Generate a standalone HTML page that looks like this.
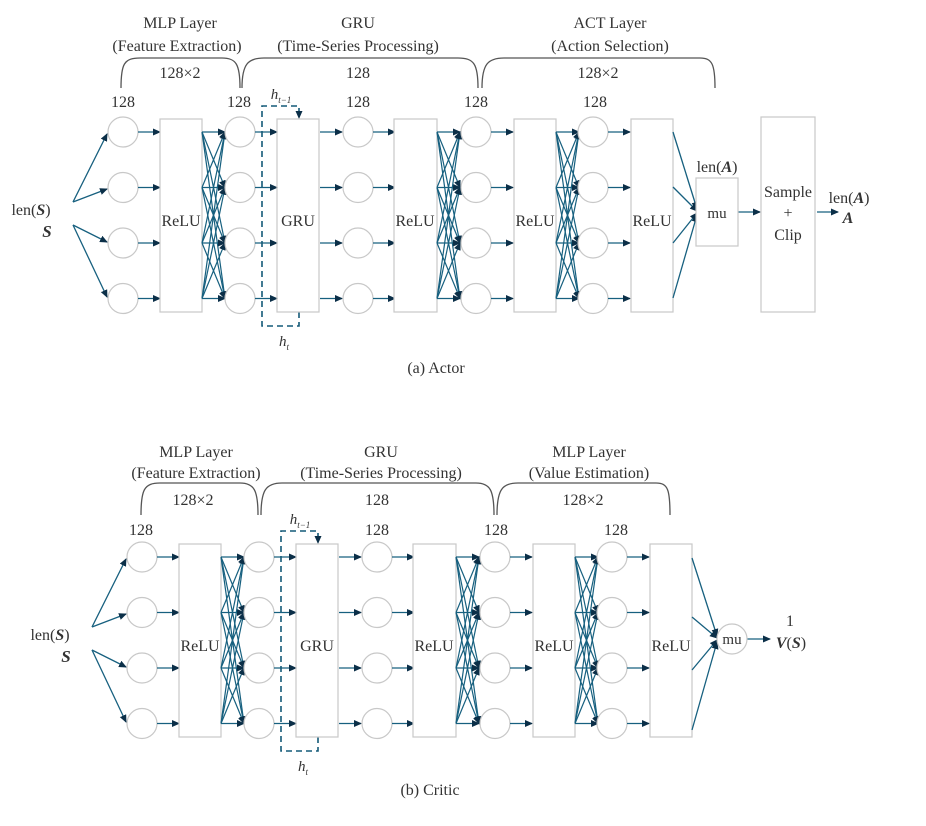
<!DOCTYPE html>
<html><head><meta charset="utf-8"><style>
html,body{margin:0;padding:0;background:#fff}
svg{display:block}
svg text{font-family:"Liberation Serif","DejaVu Serif",serif;fill:#333}
</style></head><body>
<svg width="926" height="826" viewBox="0 0 926 826" xmlns="http://www.w3.org/2000/svg" font-family="Liberation Serif, DejaVu Serif, serif">
<defs>
<marker id="ar" markerWidth="8" markerHeight="8" refX="7" refY="3.5" orient="auto" markerUnits="userSpaceOnUse">
<path d="M0,0 L8,3.5 L0,7 z" fill="#0b2f48"/>
</marker>
<g id="fc" stroke="#17607f" stroke-width="1.2" fill="none" marker-end="url(#ar)">
<line x1="0" y1="0" x2="23" y2="0"/><line x1="0" y1="0" x2="23" y2="55.5"/><line x1="0" y1="0" x2="23" y2="111"/><line x1="0" y1="0" x2="23" y2="166.5"/>
<line x1="0" y1="55.5" x2="23" y2="0"/><line x1="0" y1="55.5" x2="23" y2="55.5"/><line x1="0" y1="55.5" x2="23" y2="111"/><line x1="0" y1="55.5" x2="23" y2="166.5"/>
<line x1="0" y1="111" x2="23" y2="0"/><line x1="0" y1="111" x2="23" y2="55.5"/><line x1="0" y1="111" x2="23" y2="111"/><line x1="0" y1="111" x2="23" y2="166.5"/>
<line x1="0" y1="166.5" x2="23" y2="0"/><line x1="0" y1="166.5" x2="23" y2="55.5"/><line x1="0" y1="166.5" x2="23" y2="111"/><line x1="0" y1="166.5" x2="23" y2="166.5"/>
</g>
<g id="col" fill="#fff" stroke="#c8c8c8" stroke-width="1.2">
<circle cx="0" cy="0" r="15"/><circle cx="0" cy="55.5" r="15"/><circle cx="0" cy="111" r="15"/><circle cx="0" cy="166.5" r="15"/>
</g>
<g id="par" stroke="#17607f" stroke-width="1.3" marker-end="url(#ar)">
<line x1="0" y1="0" x2="22" y2="0"/><line x1="0" y1="55.5" x2="22" y2="55.5"/><line x1="0" y1="111" x2="22" y2="111"/><line x1="0" y1="166.5" x2="22" y2="166.5"/>
</g>
<g id="core">
<g stroke="#17607f" stroke-width="1.3" marker-end="url(#ar)">
<line x1="92" y1="627" x2="126" y2="559"/>
<line x1="92" y1="627" x2="126" y2="614"/>
<line x1="92" y1="650" x2="126" y2="667"/>
<line x1="92" y1="650" x2="126" y2="722"/>
</g>
<use href="#col" x="142" y="557"/>
<use href="#par" x="157" y="557"/>
<rect x="179" y="544" width="42" height="193" fill="#fff" stroke="#c8c8c8" stroke-width="1.2"/>
<text x="200" y="651" font-size="16" text-anchor="middle">ReLU</text>
<use href="#fc" x="221" y="557"/>
<use href="#col" x="259" y="557"/>
<use href="#par" x="274" y="557"/>
<path d="M318,737 V751 H281 V531 H318 V543" fill="none" stroke="#145a78" stroke-width="1.6" stroke-dasharray="6,4" marker-end="url(#ar)"/>
<rect x="296" y="544" width="42" height="193" fill="none" stroke="#c8c8c8" stroke-width="1.2"/>
<text x="317" y="651" font-size="16" text-anchor="middle">GRU</text>
<use href="#par" x="339" y="557"/>
<use href="#col" x="377" y="557"/>
<use href="#par" x="392" y="557"/>
<rect x="413" y="544" width="43" height="193" fill="#fff" stroke="#c8c8c8" stroke-width="1.2"/>
<text x="434" y="651" font-size="16" text-anchor="middle">ReLU</text>
<use href="#fc" x="456" y="557"/>
<use href="#col" x="495" y="557"/>
<use href="#par" x="510" y="557"/>
<rect x="533" y="544" width="42" height="193" fill="#fff" stroke="#c8c8c8" stroke-width="1.2"/>
<text x="554" y="651" font-size="16" text-anchor="middle">ReLU</text>
<use href="#fc" x="575" y="557"/>
<use href="#col" x="612" y="557"/>
<use href="#par" x="627" y="557"/>
<rect x="650" y="544" width="42" height="193" fill="#fff" stroke="#c8c8c8" stroke-width="1.2"/>
<text x="671" y="651" font-size="16" text-anchor="middle">ReLU</text>
<text x="50" y="640" font-size="16" text-anchor="middle">len(<tspan font-weight="bold" font-style="italic">S</tspan>)</text>
<text x="66" y="662" font-size="17" text-anchor="middle" font-weight="bold" font-style="italic">S</text>
<text x="300" y="524" font-size="15" font-style="italic" text-anchor="middle">h<tspan font-size="9" dy="4">t−1</tspan></text>
<text x="303" y="771" font-size="15" font-style="italic" text-anchor="middle">h<tspan font-size="9" dy="4">t</tspan></text>
</g>
</defs>

<!-- ACTOR -->
<use href="#core" x="-19" y="-425"/>
<g stroke="#17607f" stroke-width="1.3" marker-end="url(#ar)">
<line x1="673" y1="132" x2="697" y2="209"/>
<line x1="673" y1="187" x2="697" y2="211"/>
<line x1="673" y1="243" x2="697" y2="213"/>
<line x1="673" y1="298" x2="697" y2="215"/>
<line x1="738" y1="212" x2="760" y2="212"/>
<line x1="817" y1="212" x2="838" y2="212"/>
</g>
<rect x="696" y="178" width="42" height="68" fill="#fff" stroke="#c8c8c8" stroke-width="1.2"/>
<text x="717" y="218" font-size="15" text-anchor="middle">mu</text>
<text x="717" y="172" font-size="16" text-anchor="middle">len(<tspan font-weight="bold" font-style="italic">A</tspan>)</text>
<rect x="761" y="117" width="54" height="195" fill="#fff" stroke="#c8c8c8" stroke-width="1.2"/>
<text x="788" y="197" font-size="16" text-anchor="middle">Sample</text>
<text x="788" y="218" font-size="16" text-anchor="middle">+</text>
<text x="788" y="240" font-size="16" text-anchor="middle">Clip</text>
<text x="849" y="203" font-size="16" text-anchor="middle">len(<tspan font-weight="bold" font-style="italic">A</tspan>)</text>
<text x="848" y="223" font-size="16" text-anchor="middle" font-weight="bold" font-style="italic">A</text>

<g fill="none" stroke="#555" stroke-width="1.3">
<path d="M121,88 C121,64 124,58 140,58 H222 C236,58 240,64 240,88"/>
<path d="M242,88 C242,64 248,58 264,58 H458 C474,58 478,64 478,88"/>
<path d="M482,88 C482,64 488,58 504,58 H700 C712,58 715,64 715,88"/>
</g>
<g font-size="16" text-anchor="middle">
<text x="180" y="28">MLP Layer</text>
<text x="177" y="51">(Feature Extraction)</text>
<text x="180" y="78">128×2</text>
<text x="358" y="28">GRU</text>
<text x="358" y="51">(Time-Series Processing)</text>
<text x="358" y="78">128</text>
<text x="610" y="28">ACT Layer</text>
<text x="610" y="51">(Action Selection)</text>
<text x="598" y="78">128×2</text>
<text x="123" y="107">128</text>
<text x="239" y="107">128</text>
<text x="358" y="107">128</text>
<text x="476" y="107">128</text>
<text x="595" y="107">128</text>
<text x="436" y="373">(a) Actor</text>
</g>

<!-- CRITIC -->
<use href="#core" x="0" y="0"/>
<g stroke="#17607f" stroke-width="1.3" marker-end="url(#ar)">
<line x1="692" y1="558" x2="717" y2="636"/>
<line x1="692" y1="617" x2="717" y2="638"/>
<line x1="692" y1="670" x2="717" y2="640"/>
<line x1="692" y1="730" x2="717" y2="642"/>
<line x1="747" y1="639" x2="770" y2="639"/>
</g>
<circle cx="732" cy="639" r="15" fill="#fff" stroke="#c8c8c8" stroke-width="1.2"/>
<text x="732" y="644" font-size="15" text-anchor="middle">mu</text>
<text x="790" y="626" font-size="16" text-anchor="middle">1</text>
<text x="791" y="648" font-size="16" text-anchor="middle"><tspan font-weight="bold" font-style="italic">V</tspan>(<tspan font-weight="bold" font-style="italic">S</tspan>)</text>

<g fill="none" stroke="#555" stroke-width="1.3">
<path d="M141,515 C141,490 144,483 160,483 H240 C254,483 258,490 258,515"/>
<path d="M261,515 C261,490 266,483 282,483 H476 C490,483 494,490 494,515"/>
<path d="M497,515 C497,490 502,483 518,483 H656 C668,483 670,490 670,515"/>
</g>
<g font-size="16" text-anchor="middle">
<text x="196" y="457">MLP Layer</text>
<text x="196" y="478">(Feature Extraction)</text>
<text x="193" y="505">128×2</text>
<text x="381" y="457">GRU</text>
<text x="381" y="478">(Time-Series Processing)</text>
<text x="377" y="505">128</text>
<text x="589" y="457">MLP Layer</text>
<text x="589" y="478">(Value Estimation)</text>
<text x="583" y="505">128×2</text>
<text x="141" y="535">128</text>
<text x="377" y="535">128</text>
<text x="496" y="535">128</text>
<text x="616" y="535">128</text>
<text x="430" y="795">(b) Critic</text>
</g>
</svg>
</body></html>
